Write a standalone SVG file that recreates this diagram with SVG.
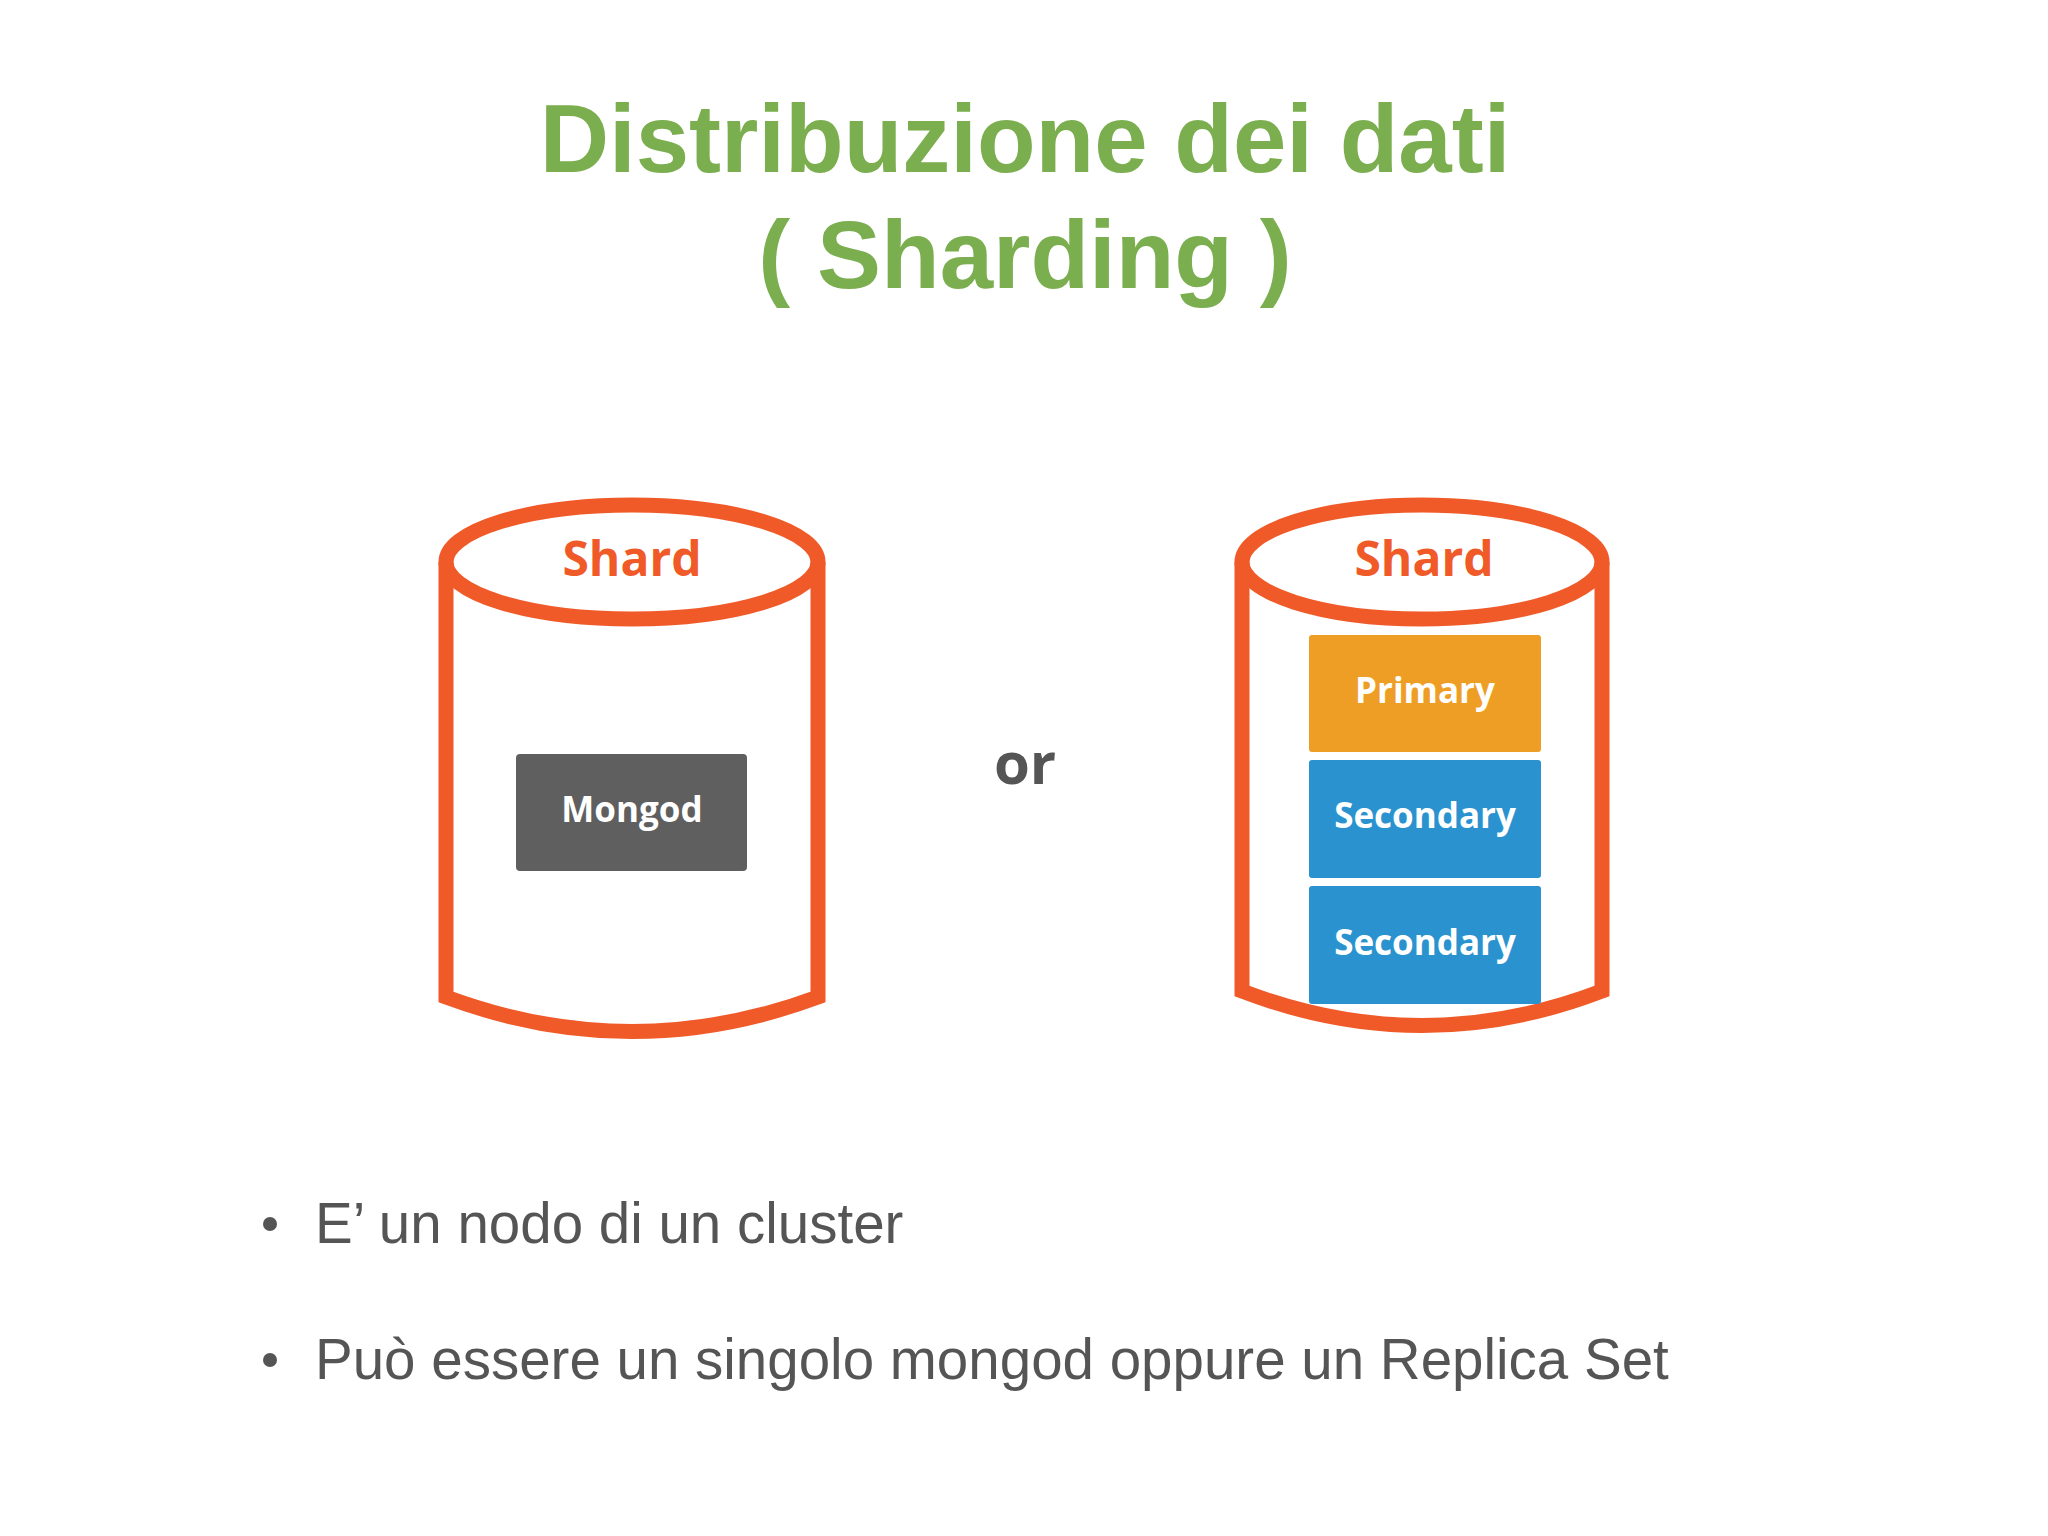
<svg xmlns="http://www.w3.org/2000/svg" width="2048" height="1536" viewBox="0 0 2048 1536">
<style>
.title{font-family:"Liberation Sans",Arial,sans-serif;font-weight:bold;font-size:96px;fill:#7BAE4F;text-anchor:middle}
.cyl{fill:none;stroke:#F05A28;stroke-width:15}
.shard{font-family:"Open Sans",sans-serif;font-weight:bold;font-size:48px;fill:#F05A28;text-anchor:middle}
.lbl{font-family:"Open Sans",sans-serif;font-weight:bold;font-size:35px;fill:#fff;text-anchor:middle}
.bul{font-family:"Liberation Sans",Arial,sans-serif;font-size:56.5px;fill:#555}
</style>
<rect width="2048" height="1536" fill="#fff"/>
<text class="title" x="1025" y="172">Distribuzione dei dati</text>
<text class="title" x="1025" y="288">( Sharding )</text>
<g id="shard1">
<ellipse class="cyl" cx="632" cy="562" rx="186" ry="57"/>
<path class="cyl" d="M446 562 V997 Q632 1066 818 997 V562"/>
<text class="shard" x="632" y="576">Shard</text>
</g>
<g id="mongod">
<rect x="516" y="754" width="231" height="117" rx="4" fill="#5F5F5F"/>
<text class="lbl" x="632" y="822">Mongod</text>
</g>
<text x="1025" y="784" font-family="Open Sans,sans-serif" font-weight="bold" font-size="58" fill="#555" text-anchor="middle">or</text>
<g id="shard2">
<ellipse class="cyl" cx="1422" cy="562" rx="180" ry="57"/>
<path class="cyl" d="M1242 562 V991 Q1422 1060 1602 991 V562"/>
<text class="shard" x="1424" y="576">Shard</text>
</g>
<g id="primary">
<rect x="1309" y="635" width="232" height="117" rx="3" fill="#EE9E25"/>
<text class="lbl" x="1425" y="703">Primary</text>
</g>
<g id="secondary1">
<rect x="1309" y="760" width="232" height="118" rx="3" fill="#2A93CF"/>
<text class="lbl" x="1425" y="828">Secondary</text>
</g>
<g id="secondary2">
<rect x="1309" y="886" width="232" height="118" rx="3" fill="#2A93CF"/>
<text class="lbl" x="1425" y="955">Secondary</text>
</g>
<g id="connectors"/>
<circle cx="270" cy="1224" r="7" fill="#555"/>
<text class="bul" x="315" y="1243">E’ un nodo di un cluster</text>
<circle cx="270" cy="1360" r="7" fill="#555"/>
<text class="bul" x="315" y="1379">Può essere un singolo mongod oppure un Replica Set</text>
</svg>
